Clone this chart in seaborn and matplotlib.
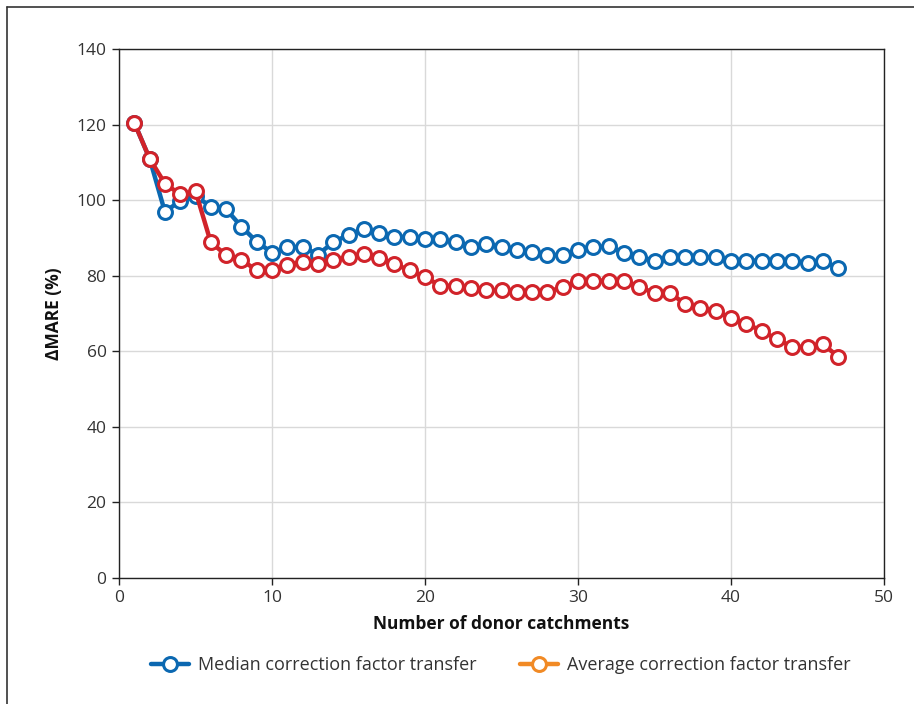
import matplotlib
matplotlib.use("Agg")
import matplotlib.pyplot as plt
import seaborn as sns
import pandas as pd
from matplotlib.lines import Line2D

donors = list(range(1, 48))
median_transfer = [120.5, 111.0, 96.9, 99.8, 101.1, 98.3, 97.6, 93.0, 89.0, 86.1,
                   87.5, 87.7, 85.6, 88.8, 90.9, 92.3, 91.2, 90.3, 90.3, 89.6,
                   89.6, 88.8, 87.7, 88.3, 87.7, 86.8, 86.2, 85.5, 85.5, 86.8,
                   87.5, 87.8, 86.1, 84.9, 84.0, 84.9, 84.9, 84.9, 84.9, 84.0,
                   84.0, 84.0, 84.0, 84.0, 83.4, 84.0, 82.0]
average_transfer = [120.5, 111.0, 104.4, 101.5, 102.4, 88.8, 85.5, 84.1, 81.5, 81.5,
                    82.8, 83.7, 83.0, 84.1, 84.9, 85.7, 84.8, 83.0, 81.5, 79.6,
                    77.4, 77.3, 76.8, 76.2, 76.2, 75.6, 75.6, 75.8, 76.9, 78.6,
                    78.7, 78.7, 78.7, 76.9, 75.5, 75.5, 72.5, 71.4, 70.7, 68.7,
                    67.3, 65.4, 63.2, 61.2, 61.2, 61.9, 58.6]
series_names = ["Median correction factor transfer", "Average correction factor transfer"]
x_ticks = [0, 10, 20, 30, 40, 50]
y_ticks = [0, 20, 40, 60, 80, 100, 120, 140]

BLUE = "#0b68b1"
RED = "#d1232a"
ORANGE = "#f18a25"

sns.set_style("white")
plt.rcParams["font.family"] = ["Open Sans", "DejaVu Sans"]

fig = plt.figure(figsize=(9.14, 7.04), dpi=100)
ax = fig.add_axes([0.1302, 0.179, 0.837, 0.7514])

df_med = pd.DataFrame({"x": donors, "y": median_transfer})
df_avg = pd.DataFrame({"x": donors, "y": average_transfer})

sns.lineplot(data=df_med, x="x", y="y", ax=ax, color=BLUE, linewidth=3.2,
             marker="o", markersize=10, markerfacecolor="white",
             markeredgecolor=BLUE, markeredgewidth=2.2, zorder=3)
sns.lineplot(data=df_avg, x="x", y="y", ax=ax, color=RED, linewidth=3.2,
             marker="o", markersize=10, markerfacecolor="white",
             markeredgecolor=RED, markeredgewidth=2.2, zorder=4)

ax.set_xlim(0, 50)
ax.set_ylim(0, 140)
ax.set_xticks(x_ticks)
ax.set_yticks(y_ticks)
ax.set_xticklabels([str(t) for t in x_ticks])
ax.set_yticklabels([str(t) for t in y_ticks])
ax.grid(True, color="#d9d9d9", linewidth=1.0, zorder=0)
ax.set_axisbelow(True)
for s in ax.spines.values():
    s.set_visible(True)
    s.set_color("#222222")
    s.set_linewidth(1.0)
ax.tick_params(axis="both", direction="out", length=5, width=1, color="#222222",
               labelsize=12.5, labelcolor="#333333", left=True, bottom=True, pad=4)

ax.set_xlabel("Number of donor catchments", fontsize=12.5, fontweight="bold",
              color="#111111", labelpad=6)
ax.set_ylabel("ΔMARE (%)", fontsize=12.5, fontweight="bold", color="#111111",
              labelpad=10)

handles = [
    Line2D([0], [0], color=BLUE, linewidth=3.2, marker="o", markersize=10,
           markerfacecolor="white", markeredgecolor=BLUE, markeredgewidth=2.2),
    Line2D([0], [0], color=ORANGE, linewidth=3.2, marker="o", markersize=10,
           markerfacecolor="white", markeredgecolor=ORANGE, markeredgewidth=2.2),
]
fig.legend(handles, series_names, loc="center", bbox_to_anchor=(0.548, 0.055),
           ncol=2, frameon=False, fontsize=13, handlelength=2.1,
           columnspacing=2.4, handletextpad=0.5, labelcolor="#333333")

# outer frame (top and left edges)
fig.add_artist(Line2D([0.008, 1.0], [0.99, 0.99], transform=fig.transFigure,
                      color="#333333", linewidth=1.2))
fig.add_artist(Line2D([0.008, 0.008], [0.0, 0.99], transform=fig.transFigure,
                      color="#333333", linewidth=1.2))

fig.savefig("out.png", dpi=100)
